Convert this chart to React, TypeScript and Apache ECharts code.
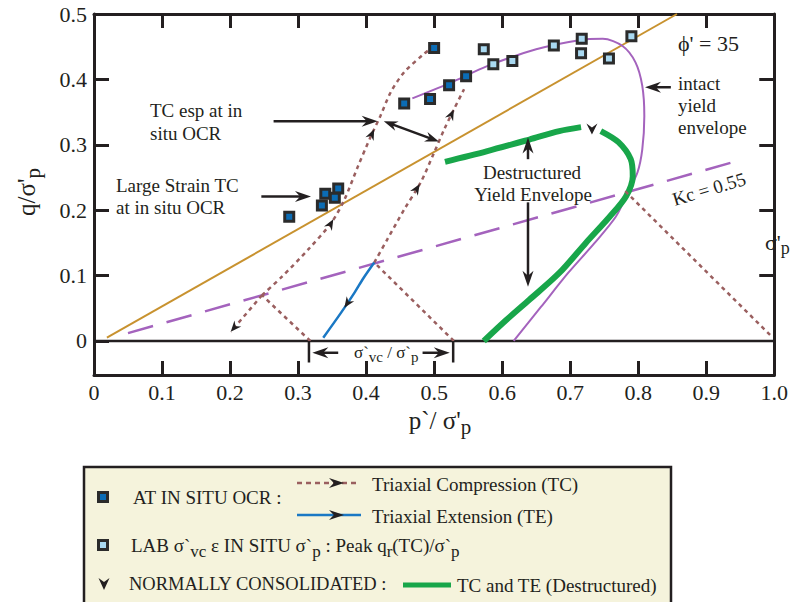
import React, { useEffect, useRef } from "react";
import * as echarts from "echarts";

const FONT = "'Liberation Serif', 'Times New Roman', serif";
const INK = "#231f20";
const GOLD = "#c8922f";
const PURPLE = "#a463bd";
const BROWN = "#9a5f5f";
const BLUE = "#1a78c4";
const GREEN = "#18a64a";
const DARK_SQ = "#0b6cb5";
const LIGHT_SQ = "#a9d9f1";
const SQ_EDGE = "#2b2b2b";
const LEGEND_BG = "#f5f3dc";

// ---- data ----
const yTickValues = [0, 0.1, 0.2, 0.3, 0.4, 0.5];
const yInnerTicks = [0.1, 0.2, 0.3, 0.4];

const zeroLine = [[0, 0], [1, 0]];
const phiLine = [[0.019, 0.005], [0.857, 0.5]];
const kcLine = [[0.05, 0.012], [0.955, 0.278]];

const intactEnvelope = [
  [0.468, 0.371], [0.529, 0.397], [0.577, 0.42], [0.65, 0.446], [0.713, 0.46],
  [0.748, 0.462], [0.777, 0.451], [0.796, 0.426], [0.806, 0.39], [0.809, 0.344],
  [0.806, 0.293], [0.799, 0.258], [0.784, 0.225], [0.767, 0.19], [0.736, 0.15],
  [0.697, 0.104], [0.657, 0.052], [0.617, 0.0],
];
const destructuredRising = [
  [0.516, 0.274], [0.577, 0.29], [0.64, 0.308], [0.684, 0.321], [0.716, 0.327],
];
const destructuredFalling = [
  [0.745, 0.321], [0.771, 0.304], [0.789, 0.278], [0.792, 0.252], [0.782, 0.221],
  [0.758, 0.19], [0.723, 0.15], [0.684, 0.104], [0.64, 0.063], [0.606, 0.032], [0.573, 0.0],
];
const ncPoint = [[0.732, 0.324]];

const inSituPoints = [
  [0.287, 0.19], [0.34, 0.225], [0.359, 0.233], [0.335, 0.207], [0.354, 0.219],
  [0.5, 0.448], [0.456, 0.363], [0.494, 0.37], [0.522, 0.391], [0.547, 0.405],
];
const labPoints = [
  [0.573, 0.446], [0.587, 0.423], [0.615, 0.428], [0.676, 0.452],
  [0.717, 0.462], [0.716, 0.44], [0.757, 0.432], [0.79, 0.466],
];

const tc1Unload = [[0.318, 0.0], [0.247, 0.07]];
const tc1Down = [[0.247, 0.07], [0.201, 0.014]];
const tc1Up = [
  [0.247, 0.07], [0.276, 0.098], [0.315, 0.14], [0.349, 0.181], [0.368, 0.216],
  [0.388, 0.267], [0.407, 0.313], [0.421, 0.344], [0.436, 0.38], [0.456, 0.411],
  [0.485, 0.439], [0.494, 0.446],
];
const tc2Unload = [[0.529, 0.0], [0.412, 0.12]];
const tc2Up = [
  [0.412, 0.12], [0.431, 0.155], [0.456, 0.201], [0.48, 0.242], [0.5, 0.288],
  [0.515, 0.324], [0.529, 0.354], [0.544, 0.385],
];
const te2 = [[0.412, 0.12], [0.396, 0.096], [0.383, 0.074], [0.363, 0.043], [0.337, 0.005]];
const tc3 = [[0.781, 0.229], [0.997, 0.006]];

// annotation arrows (data units)
const pointerArrows = [
  [[0.264, 0.336], [0.417, 0.336]],
  [[0.246, 0.221], [0.319, 0.221]],
  [[0.848, 0.388], [0.81, 0.388]],
  [[0.638, 0.278], [0.638, 0.311]],
  [[0.638, 0.212], [0.638, 0.083]],
  [[0.359, -0.018], [0.321, -0.018]],
  [[0.483, -0.018], [0.523, -0.018]],
];
const doubleArrows = [[[0.426, 0.336], [0.507, 0.305]]];
const dimensionBars = [
  [[0.316, 0.0], [0.316, -0.033]],
  [[0.528, 0.0], [0.528, -0.033]],
];

const along = (p: number[][], i: number, t: number) => {
  const a = p[i], b = p[i + 1];
  return [a[0] + (b[0] - a[0]) * t, a[1] + (b[1] - a[1]) * t];
};
const headOn = (p: number[][], i: number, t: number) => [along(p, i, t - 0.25), along(p, i, t)];

const pathHeads = [
  headOn(tc1Up, 3, 0.15),
  headOn(tc1Up, 6, 0.35),
  headOn(tc2Up, 2, 0.95),
  headOn(tc2Up, 5, 1.0),
  headOn(te2, 2, 0.75),
  headOn(tc1Down, 0, 1.0),
];

function headPoly(tip: number[], from: number[], L: number, W: number) {
  const dx = tip[0] - from[0], dy = tip[1] - from[1];
  const len = Math.hypot(dx, dy) || 1;
  const ux = dx / len, uy = dy / len;
  const nx = -uy, ny = ux;
  return [
    [tip[0], tip[1]],
    [tip[0] - ux * L + nx * W / 2, tip[1] - uy * L + ny * W / 2],
    [tip[0] - ux * L * 0.68, tip[1] - uy * L * 0.68],
    [tip[0] - ux * L - nx * W / 2, tip[1] - uy * L - ny * W / 2],
  ];
}

function arrowSeries(segs: number[][][], opts: { shaft: boolean; both: boolean; L: number; W: number; width: number }) {
  return {
    type: "custom",
    coordinateSystem: "cartesian2d",
    silent: true,
    z: 30,
    clip: false,
    data: segs.map(([a, b]) => [a[0], a[1], b[0], b[1]]),
    encode: { x: [0, 2], y: [1, 3] },
    renderItem: (_params: any, api: any) => {
      const p1 = api.coord([api.value(0), api.value(1)]);
      const p2 = api.coord([api.value(2), api.value(3)]);
      const children: any[] = [];
      if (opts.shaft) {
        const len = Math.hypot(p2[0] - p1[0], p2[1] - p1[1]) || 1;
        const ux = (p2[0] - p1[0]) / len, uy = (p2[1] - p1[1]) / len;
        const back = opts.L * 0.6;
        const s = opts.both ? [p1[0] + ux * back, p1[1] + uy * back] : p1;
        const e = [p2[0] - ux * back, p2[1] - uy * back];
        children.push({
          type: "line",
          shape: { x1: s[0], y1: s[1], x2: e[0], y2: e[1] },
          style: { stroke: INK, lineWidth: opts.width },
        });
      }
      children.push({ type: "polygon", shape: { points: headPoly(p2, p1, opts.L, opts.W) }, style: { fill: INK } });
      if (opts.both) {
        children.push({ type: "polygon", shape: { points: headPoly(p1, p2, opts.L, opts.W) }, style: { fill: INK } });
      }
      return { type: "group", children };
    },
  };
}

function lineSeries(data: number[][], color: string, width: number, type: any = "solid", smooth: number | boolean = false, z = 5) {
  return {
    type: "line",
    data,
    showSymbol: false,
    symbol: "none",
    smooth,
    silent: true,
    z,
    lineStyle: { color, width, type, cap: "butt" },
  };
}

const fontStr = (size: number) => `${size}px ${FONT}`;

function txt(text: string, x: number, y: number, size: number, align = "left", extra: any = {}, rich?: any) {
  const style: any = {
    text,
    font: fontStr(size),
    fill: INK,
    align,
    verticalAlign: "middle",
  };
  if (rich) style.rich = rich;
  return { type: "text", x, y, silent: true, z: 100, ...extra, style };
}

const subRich = (main: number, sub: number, drop: number) => ({
  n: { font: fontStr(main), fill: INK },
  s: { font: fontStr(sub), fill: INK, padding: [drop, 0, 0, 0] },
});

const fmt = (v: number) => (Math.abs(v) < 1e-9 ? "0" : v.toFixed(1));

const axisCommon = {
  axisLine: { show: true, onZero: false, lineStyle: { color: INK, width: 3 } },
  splitLine: { show: false },
};

export default function App() {
  const ref = useRef<HTMLDivElement>(null);
  useEffect(() => {
    if (!ref.current) return;
    const chart = echarts.init(ref.current, undefined, { renderer: "svg" });

    const legendX = 84, legendY = 467;
    const graphic: any[] = [
      // annotation texts
      txt("TC esp at in", 150, 110, 19),
      txt("situ OCR", 150, 133, 19),
      txt("Large Strain TC", 116, 185, 19),
      txt("at in situ OCR", 116, 207, 19),
      txt("ϕ' = 35", 678, 43, 22),
      txt("intact", 678, 83, 19),
      txt("yield", 678, 105, 19),
      txt("envelope", 678, 127, 19),
      txt("Destructured", 532, 172, 19, "center"),
      txt("Yield Envelope", 533, 194, 19, "center"),
      txt("Kc = 0.55", 709, 189, 19, "center", { rotation: 0.29 }),
      txt("{n|σ`}{s|vc}{n| / σ`}{s|p}", 354, 352, 17, "left", {}, subRich(17, 15, 10)),
      txt("{n|σ'}{s|p}", 765, 242, 22, "left", {}, subRich(22, 18, 12)),
      // axis titles
      txt("{n|q/σ'}{s|p}", 26, 192, 25, "center", { rotation: Math.PI / 2 }, subRich(25, 21, 14)),
      txt("{n|p`/ σ'}{s|p}", 440, 420, 25, "center", {}, subRich(25, 21, 14)),
      // legend box
      {
        type: "rect",
        silent: true,
        z: 90,
        shape: { x: legendX, y: legendY, width: 587, height: 160 },
        style: { fill: LEGEND_BG, stroke: INK, lineWidth: 2.5 },
      },
      {
        type: "rect", silent: true, z: 100,
        shape: { x: 98.5, y: 492.5, width: 9, height: 9 },
        style: { fill: DARK_SQ, stroke: SQ_EDGE, lineWidth: 3 },
      },
      txt("AT IN SITU OCR :", 133, 497, 19),
      {
        type: "line", silent: true, z: 100,
        shape: { x1: 297, y1: 483, x2: 357, y2: 483 },
        style: { stroke: BROWN, lineWidth: 2.5, lineDash: [5, 4] },
      },
      {
        type: "polygon", silent: true, z: 101,
        shape: { points: headPoly([344, 483], [300, 483], 15, 10) },
        style: { fill: INK },
      },
      txt("Triaxial Compression (TC)", 372, 484, 19),
      {
        type: "line", silent: true, z: 100,
        shape: { x1: 297, y1: 515, x2: 361, y2: 515 },
        style: { stroke: BLUE, lineWidth: 2.5 },
      },
      {
        type: "polygon", silent: true, z: 101,
        shape: { points: headPoly([344, 515], [300, 515], 15, 10) },
        style: { fill: INK },
      },
      txt("Triaxial Extension (TE)", 372, 516, 19),
      {
        type: "rect", silent: true, z: 100,
        shape: { x: 98.5, y: 540.5, width: 9, height: 9 },
        style: { fill: LIGHT_SQ, stroke: SQ_EDGE, lineWidth: 3 },
      },
      txt(
        "{n|LAB σ`}{s|vc}{n| ε IN SITU σ`}{s|p}{n| : Peak q}{s|r}{n|(TC)/σ`}{s|p}",
        131, 545, 19, "left", {}, subRich(19, 17, 12)
      ),
      {
        type: "polygon", silent: true, z: 100,
        shape: { points: [[98.5, 578], [104, 582], [109.5, 578], [104, 590]] },
        style: { fill: INK },
      },
      txt("NORMALLY CONSOLIDATED :", 129, 584, 18.5),
      {
        type: "line", silent: true, z: 100,
        shape: { x1: 403, y1: 585, x2: 451, y2: 585 },
        style: { stroke: GREEN, lineWidth: 5 },
      },
      txt("TC and TE (Destructured)", 457, 585, 19),
    ];

    const option: any = {
      animation: false,
      backgroundColor: "#ffffff",
      textStyle: { fontFamily: FONT },
      grid: { left: 94, top: 14, right: 11, bottom: 227, containLabel: false },
      xAxis: [
        {
          type: "value",
          position: "bottom",
          min: 0,
          max: 1,
          interval: 0.1,
          ...axisCommon,
          axisTick: { show: true, inside: true, length: 14, lineStyle: { color: INK, width: 3 } },
          axisLabel: {
            show: true, margin: 6, fontSize: 22, fontFamily: FONT, color: INK,
            formatter: fmt, showMaxLabel: true, showMinLabel: true,
          },
        },
        {
          type: "value",
          position: "top",
          min: 0,
          max: 1,
          interval: 0.1,
          ...axisCommon,
          axisTick: { show: true, inside: true, length: 14, lineStyle: { color: INK, width: 3 } },
          axisLabel: { show: false },
        },
      ],
      yAxis: [
        {
          type: "value",
          position: "left",
          min: -0.052,
          max: 0.5,
          ...axisCommon,
          axisTick: { show: true, inside: true, length: 15, customValues: yTickValues, lineStyle: { color: INK, width: 3 } },
          axisLabel: {
            show: true, margin: 7, fontSize: 22, fontFamily: FONT, color: INK,
            customValues: yTickValues, formatter: fmt,
          },
        },
        {
          type: "value",
          position: "right",
          min: -0.052,
          max: 0.5,
          ...axisCommon,
          axisTick: { show: true, inside: true, length: 15, customValues: yInnerTicks, lineStyle: { color: INK, width: 3 } },
          axisLabel: { show: false },
        },
      ],
      graphic,
      series: [
        lineSeries(zeroLine, INK, 2.5, "solid", false, 3),
        lineSeries(phiLine, GOLD, 2, "solid", false, 4),
        lineSeries(kcLine, PURPLE, 2.5, [26, 14], false, 4),
        lineSeries(intactEnvelope, PURPLE, 2, "solid", 0.3, 5),
        lineSeries(destructuredRising, GREEN, 6, "solid", 0.3, 6),
        lineSeries(destructuredFalling, GREEN, 6, "solid", 0.3, 6),
        lineSeries(tc1Unload, BROWN, 2.5, [4, 4], false, 7),
        lineSeries(tc1Down, BROWN, 2.5, [4, 4], false, 7),
        lineSeries(tc1Up, BROWN, 2.5, [4, 4], 0.3, 7),
        lineSeries(tc2Unload, BROWN, 2.5, [4, 4], false, 7),
        lineSeries(tc2Up, BROWN, 2.5, [4, 4], 0.3, 7),
        lineSeries(tc3, BROWN, 2.5, [4, 4], false, 7),
        lineSeries(te2, BLUE, 2.5, "solid", 0.3, 8),
        lineSeries(dimensionBars[0], INK, 2.5, "solid", false, 8),
        lineSeries(dimensionBars[1], INK, 2.5, "solid", false, 8),
        {
          type: "scatter",
          data: inSituPoints,
          symbol: "rect",
          symbolSize: 9,
          silent: true,
          z: 12,
          itemStyle: { color: DARK_SQ, borderColor: SQ_EDGE, borderWidth: 3, opacity: 1 },
        },
        {
          type: "scatter",
          data: labPoints,
          symbol: "rect",
          symbolSize: 9,
          silent: true,
          z: 12,
          itemStyle: { color: LIGHT_SQ, borderColor: SQ_EDGE, borderWidth: 3, opacity: 1 },
        },
        {
          type: "scatter",
          data: ncPoint,
          symbol: "path://M0,0 L5,4 L10,0 L5,11 Z",
          symbolSize: [11, 11],
          silent: true,
          z: 12,
          itemStyle: { color: INK, opacity: 1 },
        },
        arrowSeries(pointerArrows, { shaft: true, both: false, L: 16, W: 11, width: 2.5 }),
        arrowSeries(doubleArrows, { shaft: true, both: true, L: 14, W: 10, width: 2.5 }),
        arrowSeries(pathHeads, { shaft: false, both: false, L: 11, W: 9, width: 1 }),
      ],
    };
    chart.setOption(option);
    return () => chart.dispose();
  }, []);

  return (
    <div
      ref={ref}
      style={{ position: "absolute", left: 0, top: 0, width: 791, height: 602, background: "#fff" }}
    />
  );
}
